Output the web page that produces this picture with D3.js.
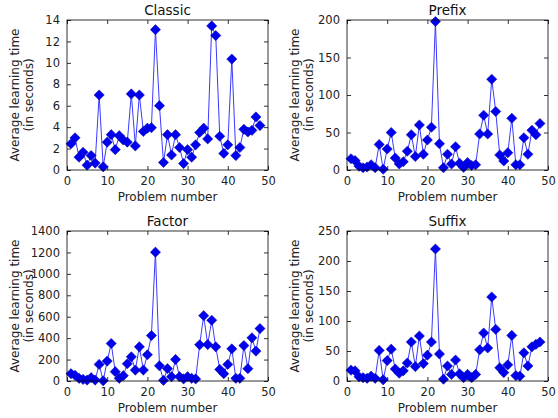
<!DOCTYPE html>
<html>
<head>
<meta charset="utf-8">
<script src="https://cdn.jsdelivr.net/npm/d3@7"></script>
<style>
  body { margin: 0; background: #fff; }
  svg { display: block; font-family: "DejaVu Sans", sans-serif; }
</style>
</head>
<body>
<div id="viz"></div>
<script>
const width = 558;
const height = 418;

// problem numbers on the x axis
const problems = [1, 2, 3, 4, 5, 6, 7, 8, 9, 10, 11, 12, 13, 14, 15, 16, 17, 18, 19, 20, 21, 22, 23, 24,
    25, 26, 27, 28, 29, 30, 31, 32, 33, 34, 35, 36, 37, 38, 39, 40, 41, 42, 43, 44, 45, 46, 47, 48];

// average learning time per problem (seconds)
const classicTimes = [2.45, 3.0, 1.2, 1.65, 0.45, 1.35, 0.65, 7.0, 0.3, 2.6, 3.3, 1.9, 3.2, 2.8, 2.6, 7.1,
    2.25, 7.0, 3.6, 3.9, 3.95, 13.1, 6.0, 0.7, 3.3, 1.4, 3.3, 2.1, 0.6, 1.9, 1.2, 2.35,
    3.5, 3.9, 2.9, 13.45, 12.55, 3.15, 1.55, 2.35, 10.35, 1.35, 2.1, 3.8, 3.55, 3.7, 4.95, 4.15];
const prefixTimes = [15, 12.5, 5, 3, 4, 7, 3, 34, 1, 28, 50, 16, 8, 11, 25, 47,
    18, 60, 21, 40, 57, 198, 35, 3, 21, 8, 31, 9, 3.5, 10, 6, 7,
    48, 73, 48, 121, 78, 20, 12, 23, 69, 7, 7, 43, 21, 53, 47, 62];
const factorTimes = [68, 53, 25, 15, 9, 31, 9, 155, 2, 186, 350, 87, 25, 50, 161, 226,
    102, 319, 102, 245, 424, 1202, 142, 6, 115, 40, 201, 40, 19, 40, 25, 19,
    338, 610, 340, 567, 319, 108, 68, 155, 300, 25, 25, 331, 115, 403, 279, 489];
const suffixTimes = [18, 17, 7, 5.5, 4.5, 8, 4.5, 51, 2, 34, 53, 20, 13, 17, 30, 65,
    24, 75, 29, 43, 65, 220, 45, 3, 25, 11, 35, 12, 5.5, 11, 5.5, 11,
    52, 80, 55, 140, 86, 22, 14, 27, 76, 9, 8, 47, 25, 57, 61, 65];

// tick labels
const xTicks = [0, 10, 20, 30, 40, 50];
const classicTicks = [0, 2, 4, 6, 8, 10, 12, 14];
const prefixTicks = [0, 50, 100, 150, 200];
const factorTicks = [0, 200, 400, 600, 800, 1000, 1200, 1400];
const suffixTicks = [0, 50, 100, 150, 200, 250];

const titles = ['Classic', 'Prefix', 'Factor', 'Suffix'];
const seriesList = [classicTimes, prefixTimes, factorTimes, suffixTimes];
const yTickList = [classicTicks, prefixTicks, factorTicks, suffixTicks];

const panelW = 201;
const panelH = 150;
const lefts = [67, 347, 67, 347];
const tops = [20, 20, 231, 231];

const svg = d3.select('#viz')
    .append('svg')
        .attr('width', width)
        .attr('height', height);

const diamond = d3.symbol().type(d3.symbolSquare).size(52);

titles.forEach((title, i) => {
    const data = seriesList[i];
    const yTicks = yTickList[i];

    const x = d3.scaleLinear().domain([0, 50]).range([0, panelW]);
    const y = d3.scaleLinear()
        .domain([0, yTicks[yTicks.length - 1]])
        .range([panelH, 0]);

    const g = svg.append('g')
        .attr('transform', `translate(${lefts[i]},${tops[i]})`);

    // axes with inward ticks (classic matplotlib look) on all four sides
    const axes = [
        [d3.axisBottom(x).tickValues(xTicks), `translate(0,${panelH})`, true],
        [d3.axisTop(x).tickValues(xTicks), 'translate(0,0)', false],
        [d3.axisLeft(y).tickValues(yTicks), 'translate(0,0)', true],
        [d3.axisRight(y).tickValues(yTicks), `translate(${panelW},0)`, false]
    ];
    axes.forEach(([axis, tr, labels]) => {
        const ag = g.append('g')
            .attr('transform', tr)
            .call(axis.tickSizeInner(-4).tickSizeOuter(0).tickPadding(7)
                .tickFormat(labels ? d3.format('d') : ''));
        ag.select('.domain').remove();
        ag.selectAll('line').attr('stroke', '#000').attr('stroke-width', 0.8);
        ag.selectAll('text')
            .attr('fill', '#222')
            .style('font-size', '11.5px')
            .style('font-family', '"DejaVu Sans", sans-serif');
    });

    // line
    const line = d3.line()
        .x((d, j) => x(problems[j]))
        .y(d => y(d));
    g.append('path')
        .attr('d', line(data))
        .attr('fill', 'none')
        .attr('stroke', '#3a3aff')
        .attr('stroke-width', 1);

    // diamond markers
    g.selectAll('.marker')
        .data(data)
        .join('path')
            .attr('class', 'marker')
            .attr('d', diamond)
            .attr('transform', (d, j) => `translate(${x(problems[j])},${y(d)}) rotate(45)`)
            .attr('fill', '#0000ee')
            .attr('stroke', '#0000aa')
            .attr('stroke-width', 0.5);

    // frame
    g.append('rect')
        .attr('width', panelW)
        .attr('height', panelH)
        .attr('fill', 'none')
        .attr('stroke', '#000')
        .attr('stroke-width', 0.8);

    // title
    g.append('text')
        .attr('x', panelW / 2)
        .attr('y', -5)
        .attr('text-anchor', 'middle')
        .attr('fill', '#111')
        .style('font-size', '13.5px')
        .text(title);

    // x label
    g.append('text')
        .attr('x', panelW / 2)
        .attr('y', panelH + 31)
        .attr('text-anchor', 'middle')
        .attr('fill', '#222')
        .style('font-size', '12px')
        .text('Problem number');

    // y label, two lines
    const yl = g.append('text')
        .attr('transform', `translate(-48,${panelH / 2}) rotate(-90)`)
        .attr('text-anchor', 'middle')
        .attr('fill', '#222')
        .style('font-size', '12px');
    yl.append('tspan').attr('x', 0).attr('dy', 0).text('Average learning time');
    yl.append('tspan').attr('x', 0).attr('dy', 14).text('(in seconds)');
});
</script>
</body>
</html>
